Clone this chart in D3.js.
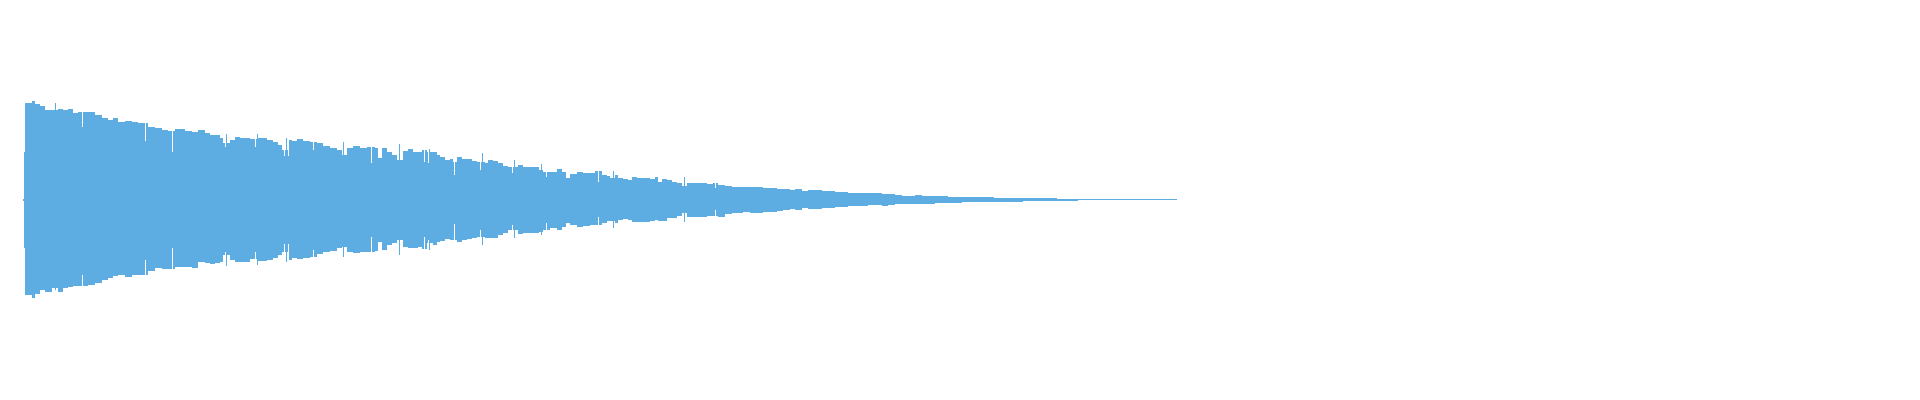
<!DOCTYPE html>
<html>
<head>
<meta charset="utf-8">
<script src="https://cdn.jsdelivr.net/npm/d3@7"></script>
<style>
  html, body { margin: 0; padding: 0; background: #ffffff; }
  svg { display: block; }
</style>
</head>
<body>
<div id="chart"></div>
<script>
// Envelope of the waveform: time (ms from start), upper peak, lower peak (normalised amplitude)
const time = [0,1,2,9,12,17,22,29,35,40,45,50,55,65,72,79,85,90,95,102,109,115,125,132,139,145,152,162,169,175,182,187,192,197,200,207,212,217,227,234,244,250,255,259,265,269,274,280,287,294,300,307,314,319,324,330,337,344,352,355,359,364,369,374,380,385,390,395,399,404,410,414,417,422,427,430,434,439,444,449,454,462,465,470,475,480,485,495,500,505,512,516,520,527,534,539,543,547,554,560,567,572,579,584,587,592,595,600,605,609,614,620,627,632,635,639,644,649,654,659,664,670,677,684,690,695,702,709,715,720,727,734,740,747,754,760,767,772,779,785,792,799,805,812,819,825,832,845,859,865,872,879,892,899,912,919,925,932,939,952,965,971,977,1000,1034,1055];
const upper = [0.01,0.48,0.97,0.99,0.96,0.94,0.90,0.90,0.91,0.90,0.91,0.87,0.88,0.88,0.85,0.82,0.80,0.82,0.78,0.79,0.78,0.77,0.73,0.72,0.70,0.69,0.71,0.69,0.68,0.70,0.67,0.65,0.65,0.62,0.57,0.60,0.63,0.62,0.61,0.62,0.60,0.58,0.55,0.50,0.60,0.59,0.61,0.59,0.58,0.57,0.54,0.52,0.50,0.45,0.52,0.54,0.52,0.53,0.52,0.42,0.52,0.48,0.45,0.40,0.49,0.51,0.48,0.48,0.50,0.48,0.48,0.45,0.43,0.40,0.41,0.38,0.43,0.41,0.41,0.39,0.38,0.37,0.40,0.39,0.37,0.34,0.33,0.35,0.33,0.33,0.33,0.30,0.28,0.28,0.31,0.28,0.22,0.26,0.28,0.27,0.27,0.29,0.25,0.24,0.22,0.25,0.22,0.21,0.20,0.23,0.22,0.22,0.21,0.23,0.18,0.21,0.20,0.18,0.17,0.14,0.17,0.17,0.17,0.16,0.17,0.15,0.14,0.13,0.13,0.13,0.13,0.13,0.12,0.12,0.11,0.11,0.10,0.107,0.093,0.10,0.10,0.093,0.093,0.083,0.077,0.067,0.067,0.067,0.06,0.057,0.05,0.043,0.047,0.04,0.04,0.037,0.033,0.03,0.027,0.03,0.027,0.02,0.023,0.017,0.01,0.01];
const lower = [-0.01,-0.48,-0.95,-0.98,-0.94,-0.90,-0.92,-0.88,-0.92,-0.88,-0.87,-0.86,-0.86,-0.85,-0.83,-0.80,-0.78,-0.76,-0.75,-0.77,-0.75,-0.75,-0.71,-0.68,-0.69,-0.69,-0.67,-0.67,-0.68,-0.62,-0.63,-0.64,-0.63,-0.62,-0.55,-0.60,-0.62,-0.62,-0.59,-0.61,-0.60,-0.58,-0.55,-0.52,-0.60,-0.58,-0.59,-0.58,-0.57,-0.54,-0.52,-0.51,-0.48,-0.47,-0.52,-0.53,-0.52,-0.52,-0.51,-0.42,-0.50,-0.45,-0.43,-0.40,-0.47,-0.48,-0.48,-0.47,-0.49,-0.43,-0.45,-0.42,-0.41,-0.39,-0.40,-0.40,-0.42,-0.40,-0.39,-0.38,-0.37,-0.38,-0.38,-0.38,-0.35,-0.33,-0.30,-0.34,-0.33,-0.33,-0.33,-0.32,-0.30,-0.28,-0.30,-0.27,-0.23,-0.25,-0.27,-0.26,-0.25,-0.25,-0.23,-0.21,-0.21,-0.23,-0.20,-0.19,-0.20,-0.22,-0.22,-0.22,-0.21,-0.20,-0.21,-0.21,-0.18,-0.18,-0.16,-0.13,-0.17,-0.17,-0.17,-0.16,-0.16,-0.17,-0.14,-0.13,-0.13,-0.12,-0.13,-0.13,-0.12,-0.12,-0.11,-0.10,-0.09,-0.10,-0.083,-0.09,-0.09,-0.077,-0.083,-0.067,-0.067,-0.057,-0.057,-0.05,-0.057,-0.05,-0.043,-0.04,-0.037,-0.037,-0.033,-0.033,-0.03,-0.027,-0.02,-0.02,-0.02,-0.02,-0.017,-0.01,-0.007,-0.003];
const endTime = 1154;

// Single-column outliers (short dips and taller peaks)
const spikeTime  = [32,59,122,149,202,203,232,234,261,263,265,290,320,348,376,401,405,406,431,457,459,489,491,518,523,575,590,661,692];
const spikeUpper = [0.97,0.73,0.59,0.48,0.53,0.66,0.53,0.66,0.44,0.62,0.44,0.50,0.58,0.37,0.56,0.38,0.37,0.51,0.25,0.30,0.47,0.27,0.40,0.36,0.23,0.18,0.29,0.23,0.12];
const spikeLower = [-0.90,-0.75,-0.60,-0.48,-0.52,-0.66,-0.52,-0.65,-0.44,-0.62,-0.44,-0.50,-0.57,-0.37,-0.55,-0.37,-0.40,-0.50,-0.24,-0.30,-0.45,-0.25,-0.38,-0.35,-0.23,-0.17,-0.28,-0.22,-0.10];

const W = 1920, H = 400;
const color = "#5DADE2";

const x = d3.scaleLinear().domain([0, 1874]).range([23, 1897]);
const y = d3.scaleLinear().domain([-1, 1]).range([300, 100]);

const svg = d3.select("#chart").append("svg")
  .attr("width", W).attr("height", H)
  .attr("shape-rendering", "crispEdges");

const env = time.map((t, i) => ({
  t0: t,
  t1: i < time.length - 1 ? time[i + 1] : endTime,
  hi: upper[i],
  lo: lower[i]
}));

svg.append("g").selectAll("rect").data(env).join("rect")
  .attr("x", d => x(d.t0))
  .attr("width", d => x(d.t1) - x(d.t0))
  .attr("y", d => y(d.hi))
  .attr("height", d => Math.max(1, y(d.lo) - y(d.hi)))
  .attr("fill", color);

const spikes = spikeTime.map((t, i) => ({ t, hi: spikeUpper[i], lo: spikeLower[i] }));
const sg = svg.append("g");
sg.selectAll("rect.clear").data(spikes).join("rect")
  .attr("class", "clear")
  .attr("x", d => x(d.t))
  .attr("width", d => x(d.t + 1) - x(d.t))
  .attr("y", y(1.05))
  .attr("height", y(-1.05) - y(1.05))
  .attr("fill", "#ffffff");
sg.selectAll("rect.spike").data(spikes).join("rect")
  .attr("class", "spike")
  .attr("x", d => x(d.t))
  .attr("width", d => x(d.t + 1) - x(d.t))
  .attr("y", d => y(d.hi))
  .attr("height", d => Math.max(1, y(d.lo) - y(d.hi)))
  .attr("fill", color);
</script>
</body>
</html>
